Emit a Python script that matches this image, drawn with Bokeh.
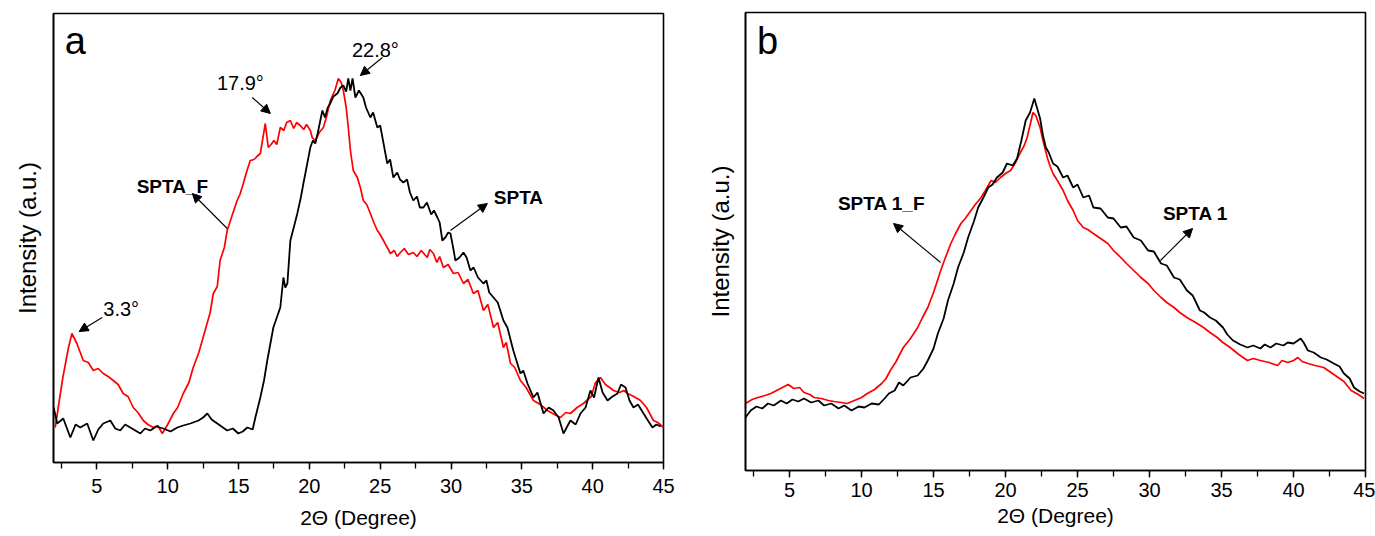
from bokeh.plotting import figure
from bokeh.layouts import row, column
from bokeh.models import Range1d, SingleIntervalTicker, FixedTicker, Label, Arrow, NormalHead
from bokeh.embed import file_html
from bokeh.resources import INLINE

# ---------------- data (2Theta in degrees, intensity in a.u.) ----------------
# Panel a : SPTA (black) and SPTA_F (red)
spta_x = [1.95, 2.2, 2.63, 3.13, 3.5, 3.83, 4.32, 4.75, 5.1, 5.45, 5.95, 6.3, 6.65, 7.0, 7.36,
          8.07, 8.4, 8.77, 9.2, 9.69, 10.2, 10.68, 11.1, 11.6, 12.18, 12.5, 12.8, 13.1, 13.5,
          14.2, 14.6, 14.99, 15.3, 15.62, 16.0, 16.19, 16.54, 16.8, 17.03, 17.46, 17.95, 18.17,
          18.3, 18.45, 18.66, 18.9, 19.15, 19.4, 19.58, 19.8, 20.07, 20.25, 20.42, 20.6, 20.92,
          21.1, 21.3, 21.48, 21.7, 21.98, 22.2, 22.4, 22.6, 22.75, 22.9, 23.05, 23.25, 23.5,
          23.81, 24.0, 24.31, 24.5, 24.8, 25.0, 25.16, 25.5, 25.7, 25.93, 26.2, 26.4, 26.64,
          26.9, 27.1, 27.34, 27.6, 27.8, 28.05, 28.3, 28.6, 28.8, 29.04, 29.2, 29.39, 29.6,
          29.8, 29.96, 30.15, 30.31, 30.6, 30.88, 31.1, 31.37, 31.6, 31.9, 32.29, 32.5, 32.7,
          33.0, 33.3, 33.7, 33.98, 34.4, 34.9, 35.1, 35.4, 35.82, 36.1, 36.53, 36.9, 37.23,
          37.6, 37.94, 38.43, 38.8, 39.14, 39.5, 39.84, 40.1, 40.41, 40.7, 41.05, 41.4, 41.75,
          42.0, 42.32, 42.6, 42.88, 43.2, 43.59, 43.9, 44.22, 44.5, 44.8]
spta_y = [55, 39, 44, 25, 38, 35, 39, 22, 33, 39, 42, 34, 32, 38, 35,
          29, 34, 32, 36, 34, 31, 35, 37, 39, 42, 45, 49, 43, 39,
          32, 34, 29, 31, 35, 33, 45, 65, 82, 102, 135, 155, 185,
          175, 179, 222, 235, 249, 265, 279, 295, 315, 322, 319, 330, 352,
          345, 355, 359, 366, 369, 375, 377, 371, 384, 372, 384, 365, 372,
          365, 355, 345, 350, 335, 337, 325, 299, 303, 285, 290, 283, 280,
          283, 270, 262, 266, 255, 255, 260, 248, 252, 245, 240, 222, 225,
          230, 229, 215, 202, 205, 210, 205, 192, 195, 185, 179, 182, 170,
          165, 160, 142, 135, 112, 89, 92, 79, 65, 70, 49, 55, 52,
          45, 29, 42, 38, 49, 55, 72, 65, 85, 70, 62, 66, 69,
          78, 75, 62, 55, 58, 49, 42, 35, 38, 36]

sptaf_x = [2.06, 2.6, 3.0, 3.24, 3.59, 4.04, 4.4, 4.75, 5.1, 5.45, 5.8, 6.16, 6.5, 6.86, 7.2,
           7.57, 7.9, 8.28, 8.6, 8.98, 9.3, 9.62, 10.0, 10.4, 10.7, 11.1, 11.5, 11.8, 12.2,
           12.5, 13.0, 13.22, 13.5, 13.7, 14.0, 14.2, 14.5, 14.9, 15.1, 15.34, 15.6, 15.83,
           16.1, 16.3, 16.54, 16.89, 17.1, 17.3, 17.5, 17.7, 17.95, 18.2, 18.4, 18.66, 18.9,
           19.1, 19.36, 19.6, 19.8, 20.07, 20.2, 20.42, 20.7, 20.99, 21.2, 21.48, 21.8, 22.05,
           22.25, 22.4, 22.6, 22.75, 22.9, 23.1, 23.39, 23.6, 23.81, 24.05, 24.31, 24.55, 24.8,
           25.0, 25.23, 25.5, 25.72, 26.0, 26.2, 26.43, 26.7, 27.0, 27.34, 27.6, 27.9, 28.33,
           28.5, 28.76, 29.0, 29.2, 29.46, 29.8, 30.17, 30.5, 30.88, 31.2, 31.58, 31.9, 32.29,
           32.6, 33.0, 33.3, 33.7, 33.9, 34.2, 34.5, 34.9, 35.3, 35.82, 36.3, 36.81, 37.3,
           37.73, 38.1, 38.43, 38.9, 39.35, 39.9, 40.2, 40.55, 40.9, 41.2, 41.47, 41.9, 42.2,
           42.46, 42.9, 43.38, 43.8, 44.29, 44.6, 45.0]
sptaf_y = [35, 85, 115, 129, 119, 102, 100, 92, 94, 89, 86, 82, 78, 69, 66,
           55, 50, 42, 38, 35, 37, 29, 38, 49, 55, 69, 80, 95, 110,
           125, 150, 169, 176, 202, 215, 232, 245, 262, 268, 279, 292, 302,
           303, 306, 309, 339, 315, 318, 322, 318, 335, 332, 340, 342, 334,
           340, 337, 333, 338, 332, 325, 322, 330, 335, 345, 362, 372, 384,
           380, 372, 355, 335, 312, 292, 285, 275, 262, 258, 249, 240, 232,
           228, 222, 215, 209, 212, 206, 210, 214, 208, 210, 206, 212, 205,
           213, 209, 200, 206, 195, 198, 189, 190, 179, 183, 169, 172, 152,
           158, 135, 140, 115, 120, 99, 95, 82, 75, 62, 58, 52, 48,
           45, 50, 49, 55, 59, 66, 80, 85, 78, 75, 72, 70, 72,
           69, 66, 62, 55, 42, 40, 35]

# Panel b : SPTA 1 (black) and SPTA 1_F (red)
spta1_x = [1.94, 2.3, 2.7, 3.1, 3.5, 3.9, 4.4, 4.8, 5.2, 5.6, 6.0, 6.5, 7.0, 7.4, 7.9, 8.4,
           8.8, 9.3, 9.8, 10.2, 10.7, 11.2, 11.6, 11.9, 12.3, 12.6, 12.9, 13.4, 13.9, 14.3,
           14.6, 15.0, 15.3, 15.7, 16.0, 16.4, 16.7, 17.1, 17.4, 17.8, 18.1, 18.5, 18.8, 19.1,
           19.4, 19.8, 20.1, 20.5, 20.8, 21.1, 21.4, 21.7, 22.0, 22.2, 22.4, 22.6, 22.8, 23.0,
           23.3, 23.6, 24.0, 24.3, 24.7, 25.0, 25.4, 25.8, 26.1, 26.6, 27.1, 27.5, 28.0, 28.4,
           28.9, 29.4, 29.9, 30.3, 30.8, 31.2, 31.7, 32.1, 32.6, 33.0, 33.5, 33.8, 34.2, 34.6,
           35.1, 35.4, 35.8, 36.3, 36.8, 37.2, 37.7, 38.0, 38.4, 38.8, 39.3, 39.6, 40.0, 40.5,
           40.7, 41.0, 41.4, 41.9, 42.3, 42.8, 43.2, 43.5, 43.9, 44.2, 44.6, 44.9]
spta1_y = [53, 60, 64, 62, 67, 65, 70, 67, 71, 69, 72, 68, 70, 65, 67, 62,
           65, 60, 64, 63, 67, 66, 72, 77, 80, 88, 85, 93, 95, 102,
           110, 122, 137, 152, 170, 187, 203, 218, 233, 249, 263, 274, 283, 286,
           293, 298, 307, 305, 312, 330, 350, 358, 372, 362, 352, 335, 323, 318,
           307, 304, 293, 295, 283, 286, 273, 275, 263, 262, 253, 252, 243, 244,
           233, 230, 220, 219, 207, 205, 193, 191, 180, 175, 160, 158, 153, 150,
           143, 136, 130, 126, 123, 125, 122, 126, 123, 127, 125, 128, 127, 132,
           128, 120, 118, 113, 111, 107, 104, 97, 92, 83, 79, 77]

spta1f_x = [1.94, 2.4, 2.8, 3.3, 3.7, 4.1, 4.5, 4.9, 5.3, 5.7, 6.0, 6.4, 6.7, 7.2, 7.7, 8.1,
            8.6, 9.0, 9.5, 10.0, 10.4, 10.9, 11.4, 11.7, 12.0, 12.4, 12.9, 13.4, 13.9, 14.2,
            14.6, 15.0, 15.5, 15.8, 16.2, 16.5, 16.9, 17.2, 17.6, 17.9, 18.3, 18.6, 19.0, 19.3,
            19.65, 20.0, 20.35, 20.7, 21.0, 21.3, 21.5, 21.7, 21.9, 22.1, 22.4, 22.6, 22.9, 23.1,
            23.3, 23.6, 24.0, 24.3, 24.7, 25.0, 25.4, 25.7, 26.1, 26.6, 27.1, 27.5, 28.0, 28.4,
            28.9, 29.4, 29.9, 30.3, 30.8, 31.2, 31.7, 32.1, 32.6, 33.2, 33.75, 34.2, 34.7, 35.1,
            35.6, 36.2, 36.8, 37.2, 37.7, 38.3, 38.9, 39.2, 39.6, 40.0, 40.3, 40.6, 41.0, 41.5,
            42.1, 42.6, 43.1, 43.5, 44.0, 44.5, 44.9]
spta1f_y = [67, 71, 73, 75, 77, 80, 83, 86, 82, 83, 78, 76, 73, 72, 70, 69,
            68, 67, 70, 73, 77, 81, 87, 92, 100, 109, 123, 132, 143, 152,
            163, 178, 200, 212, 227, 236, 247, 252, 260, 266, 273, 280, 290, 288,
            293, 297, 300, 308, 317, 325, 333, 345, 358, 355, 343, 330, 313, 304,
            297, 290, 280, 270, 260, 250, 243, 241, 237, 232, 227, 220, 213, 207,
            200, 193, 187, 180, 173, 168, 163, 158, 153, 148, 143, 138, 133, 128,
            123, 116, 110, 112, 110, 108, 105, 110, 108, 110, 113, 109, 107, 105,
            103, 98, 93, 89, 80, 76, 72]

x_label = "2\u0398 (Degree)"
y_label = "Intensity (a.u.)"

FONT = "Liberation Sans"


def make_fig(width, height, left, right, top, bottom, ymax, lab_standoff, tick_standoff, ylab_standoff):
    p = figure(width=width, height=height, output_backend="svg", toolbar_location=None,
               x_range=Range1d(1.94, 45), y_range=Range1d(0, ymax),
               min_border_left=left, min_border_right=right,
               min_border_top=top, min_border_bottom=bottom)
    p.xgrid.visible = False
    p.ygrid.visible = False
    p.outline_line_color = "black"
    p.outline_line_width = 1.6
    p.outline_line_alpha = 1.0
    p.background_fill_color = "white"
    p.border_fill_color = "white"

    xa = p.xaxis[0]
    xa.ticker = SingleIntervalTicker(interval=5, num_minor_ticks=2)
    xa.axis_line_width = 1.6
    xa.major_tick_out = 7
    xa.major_tick_in = 0
    xa.minor_tick_out = 6
    xa.minor_tick_in = 0
    xa.major_tick_line_width = 1.3
    xa.minor_tick_line_width = 1.3
    xa.major_label_text_font = FONT
    xa.major_label_text_font_size = "20px"
    xa.major_label_text_color = "black"
    xa.major_label_standoff = tick_standoff
    xa.axis_label = x_label
    xa.axis_label_text_font = FONT
    xa.axis_label_text_font_style = "normal"
    xa.axis_label_text_font_size = "21px"
    xa.axis_label_text_color = "black"
    xa.axis_label_standoff = lab_standoff

    ya = p.yaxis[0]
    ya.ticker = FixedTicker(ticks=[])
    ya.axis_line_width = 1.6
    ya.major_tick_out = 0
    ya.minor_tick_out = 0
    ya.major_label_text_font_size = "0px"
    ya.axis_label = y_label
    ya.axis_label_text_font = FONT
    ya.axis_label_text_font_style = "normal"
    ya.axis_label_text_font_size = "24px"
    ya.axis_label_text_color = "black"
    ya.axis_label_standoff = ylab_standoff
    return p


def add_label(p, x, y, text, size="19px", style="normal", align="center"):
    p.add_layout(Label(x=x, y=y, text=text, text_font=FONT, text_font_size=size,
                       text_font_style=style, text_align=align, text_baseline="middle",
                       text_color="black"))


def add_arrow(p, xs, ys, xe, ye):
    p.add_layout(Arrow(end=NormalHead(size=9, fill_color="black", line_color="black", line_width=1),
                       x_start=xs, y_start=ys, x_end=xe, y_end=ye,
                       line_color="black", line_width=1.1))


# ---------------- panel a ----------------
pa = make_fig(690, 536, 53, 27, 13, 74, 449, lab_standoff=10, tick_standoff=9, ylab_standoff=13)
pa.line(sptaf_x, sptaf_y, line_color="#ff0000", line_width=1.7)
pa.line(spta_x, spta_y, line_color="black", line_width=1.8)

add_label(pa, 2.74, 422, "a", size="38px", align="left")
add_label(pa, 24.66, 413, "22.8\u00b0", size="20px")
add_label(pa, 15.13, 380, "17.9\u00b0", size="20px")
add_label(pa, 6.72, 154, "3.3\u00b0", size="20px")
add_label(pa, 10.33, 276, "SPTA_F", style="bold")
add_label(pa, 34.76, 265, "SPTA", style="bold")
add_arrow(pa, 25.16, 405, 23.6, 387)
add_arrow(pa, 15.97, 365, 17.25, 349)
add_arrow(pa, 5.38, 145, 3.75, 131)
add_arrow(pa, 14.2, 234, 11.74, 269)
add_arrow(pa, 29.96, 232, 32.57, 259)

# ---------------- panel b ----------------
pb = make_fig(685, 536, 55, 10, 12, 66, 458, lab_standoff=4, tick_standoff=5, ylab_standoff=12)
pb.line(spta1f_x, spta1f_y, line_color="#ff0000", line_width=1.7)
pb.line(spta1_x, spta1_y, line_color="black", line_width=1.8)

add_label(pb, 2.74, 430, "b", size="38px", align="left")
add_label(pb, 11.39, 267, "SPTA 1_F", style="bold")
add_label(pb, 33.19, 257, "SPTA 1", style="bold")
add_arrow(pb, 15.49, 208, 12.22, 247)
add_arrow(pb, 30.76, 210, 32.99, 242)

layout = row(column(pa), column(pb))
open("out.html", "w").write(file_html(layout, INLINE))
